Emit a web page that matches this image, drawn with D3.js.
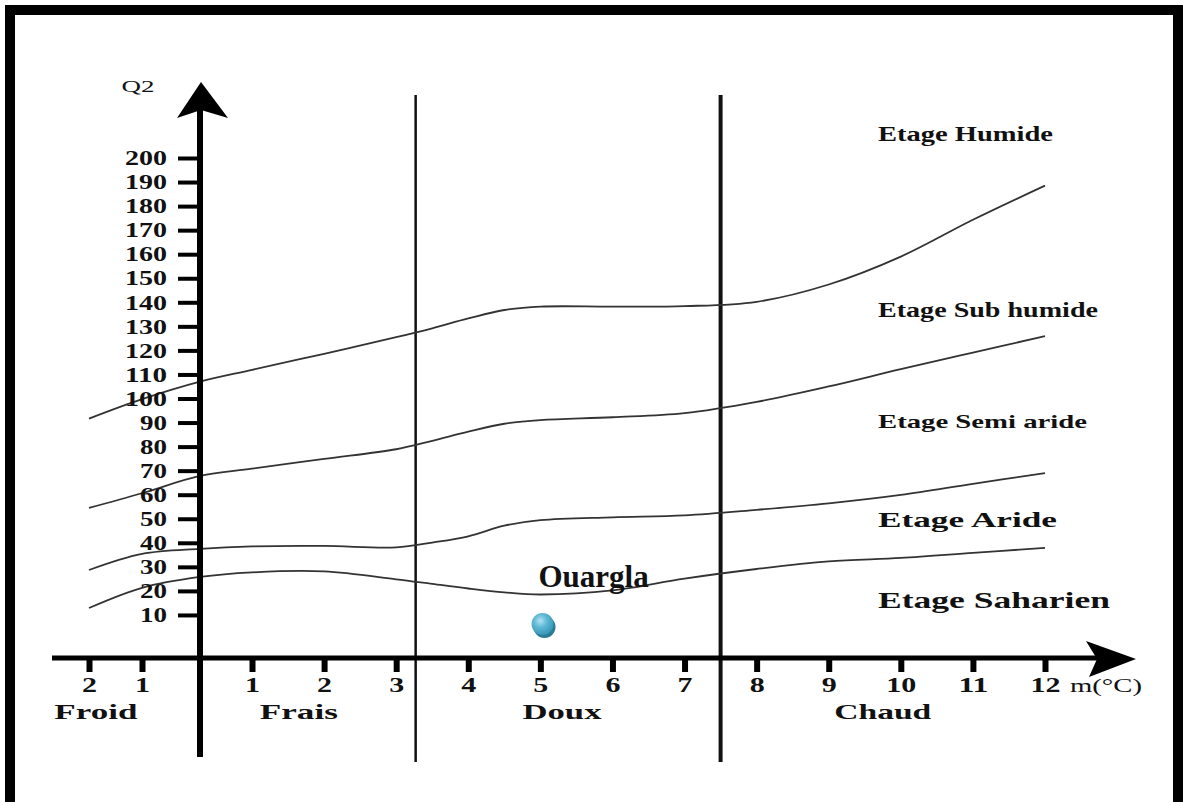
<!DOCTYPE html>
<html>
<head>
<meta charset="utf-8">
<script src="https://cdn.jsdelivr.net/npm/d3@7"></script>
<style>
  html, body { margin: 0; padding: 0; background: #fff; }
  svg { display: block; }
  text { font-family: "Liberation Serif", "Times New Roman", serif; fill: #111; }
</style>
</head>
<body>
<svg id="chart" width="1183" height="802"></svg>
<script>
// ---------- DATA ----------
// m (°C), mean minimum temperature of the coldest month
const mValues = [-2, -1, 0, 1, 2, 3, 3.5, 4, 4.5, 5, 6, 7, 8, 9, 10, 11, 12];
// Q2 boundary curves
const humideBoundary    = [91.6, 99.7, 107.0, 111.9, 118.6, 125.5, 129.2, 133.3, 136.8, 138.2, 138.2, 138.4, 140.2, 147.4, 159.0, 174.3, 188.5];
const subHumideBoundary = [54.5, 60.6, 67.8, 70.8, 74.9, 78.9, 82.4, 86.2, 89.5, 91.0, 92.2, 93.9, 98.6, 105.0, 112.2, 119.1, 125.9];
const semiAridBoundary  = [28.7, 35.4, 37.5, 38.5, 38.7, 38.1, 40.1, 42.7, 47.1, 49.4, 50.6, 51.4, 53.7, 56.4, 59.9, 64.5, 69.0];
const aridBoundary      = [12.9, 21.3, 25.8, 27.7, 28.1, 24.8, 22.9, 21.0, 19.4, 18.5, 20.2, 25.1, 29.1, 32.3, 33.7, 35.8, 37.9];
const boundaries = [humideBoundary, subHumideBoundary, semiAridBoundary, aridBoundary];

const yTicks = [10, 20, 30, 40, 50, 60, 70, 80, 90, 100, 110, 120, 130, 140, 150, 160, 170, 180, 190, 200];
const xTicks = [-2, -1, 1, 2, 3, 4, 5, 6, 7, 8, 9, 10, 11, 12];
const xTickLabels = ["2", "1", "1", "2", "3", "4", "5", "6", "7", "8", "9", "10", "11", "12"];

const thermalZones = ["Froid", "Frais", "Doux", "Chaud"];
const zoneLimits = [3.27, 7.5];          // vertical separators (m)
const etageNames = ["Etage Humide", "Etage Sub humide", "Etage Semi aride", "Etage Aride", "Etage Saharien"];

const stationName = "Ouargla";
const stationM = 5.03;
const stationQ2 = 6.2;

// ---------- LAYOUT ----------
const svg = d3.select("#chart");
const x = d3.scaleLinear().domain([-2, -1, 0, 1, 12]).range([89, 142, 200, 252, 1045]);
const y = d3.scaleLinear().domain([0, 200]).range([639, 158]);
const xAxisY = 658;
const axisBottomEnd = 757;

const defs = svg.append("defs");
const grad = defs.append("radialGradient").attr("id", "ball").attr("cx", "40%").attr("cy", "35%").attr("r", "65%");
grad.append("stop").attr("offset", "0%").attr("stop-color", "#b4e3f2");
grad.append("stop").attr("offset", "45%").attr("stop-color", "#5fb9d6");
grad.append("stop").attr("offset", "100%").attr("stop-color", "#3a97b8");

// frame
svg.append("path")
  .attr("d", "M10,802 V10 H1178 V802")
  .attr("fill", "none").attr("stroke", "#000").attr("stroke-width", 10);

// vertical separators
svg.selectAll(".sep").data(zoneLimits).enter().append("line")
  .attr("x1", d => x(d)).attr("x2", d => x(d))
  .attr("y1", 95).attr("y2", 762)
  .attr("stroke", "#111").attr("stroke-width", (d, i) => i === 0 ? 2.5 : 4);

// boundary curves
const line = d3.line().x((d, i) => x(mValues[i])).y(d => y(d)).curve(d3.curveCatmullRom.alpha(0.5));
svg.selectAll(".bound").data(boundaries).enter().append("path")
  .attr("d", line).attr("fill", "none")
  .attr("stroke", "#333").attr("stroke-width", 1.8);

// Y axis
const yAxis = d3.axisLeft(y).tickValues(yTicks).tickSize(22).tickPadding(11);
const gy = svg.append("g").attr("transform", "translate(200,0)").call(yAxis);
gy.select(".domain").remove();
gy.selectAll(".tick line").attr("stroke", "#000").attr("stroke-width", 4);
gy.selectAll(".tick text")
  .style("font-family", "'Liberation Serif', 'Times New Roman', serif")
  .style("font-weight", "bold").style("font-size", "21px").attr("fill", "#111")
  .attr("textLength", d => String(d).length === 3 ? 42 : 27)
  .attr("lengthAdjust", "spacingAndGlyphs");

// X axis
const xAxis = d3.axisBottom(x).tickValues(xTicks).tickSize(14).tickPadding(6)
  .tickFormat((d, i) => xTickLabels[i]);
const gx = svg.append("g").attr("transform", `translate(0,${xAxisY})`).call(xAxis);
gx.select(".domain").remove();
gx.selectAll(".tick line").attr("stroke", "#000").attr("stroke-width", 6);
gx.selectAll(".tick text")
  .style("font-family", "'Liberation Serif', 'Times New Roman', serif")
  .style("font-weight", "bold").style("font-size", "20px").attr("fill", "#111")
  .attr("textLength", (d, i) => xTickLabels[i].length === 2 ? 30 : 15)
  .attr("lengthAdjust", "spacingAndGlyphs");

// axis lines
svg.append("line").attr("x1", 52).attr("x2", 1100).attr("y1", xAxisY).attr("y2", xAxisY)
  .attr("stroke", "#000").attr("stroke-width", 5);
svg.append("line").attr("x1", x(0)).attr("x2", x(0)).attr("y1", 100).attr("y2", axisBottomEnd)
  .attr("stroke", "#000").attr("stroke-width", 6);
// arrow heads
svg.append("path").attr("d", "M201,82 L177,118 L201,110 L228,118 Z").attr("fill", "#000");
svg.append("path").attr("d", "M1136,659 L1086,641 L1097,659 L1089,677 Z").attr("fill", "#000");

// axis titles
svg.append("text").attr("x", 138).attr("y", 92).attr("text-anchor", "middle")
  .style("font-size", "17px").attr("textLength", 33).attr("lengthAdjust", "spacingAndGlyphs").text("Q2");
svg.append("text").attr("x", 1070).attr("y", 692)
  .style("font-size", "19px").attr("textLength", 72).attr("lengthAdjust", "spacingAndGlyphs").text("m(°C)");

// thermal zone names
const zonePos = [-1.87, 1.65, 5.3, 9.75];
const zoneW = [83, 78, 79, 97];
svg.selectAll(".zone").data(thermalZones).enter().append("text")
  .attr("x", (d, i) => x(zonePos[i]) - zoneW[i] / 2).attr("y", 719)
  .style("font-size", "22px").style("font-weight", "bold")
  .attr("textLength", (d, i) => zoneW[i]).attr("lengthAdjust", "spacingAndGlyphs")
  .text(d => d);

// bioclimatic stage names
const etageY = [141, 317, 428, 527, 608];
const etageW = [175, 220, 209, 179, 232];
const etageFS = [20, 20, 19, 22, 23];
svg.selectAll(".etage").data(etageNames).enter().append("text")
  .attr("x", 878).attr("y", (d, i) => etageY[i])
  .style("font-size", (d, i) => etageFS[i] + "px").style("font-weight", "bold")
  .attr("textLength", (d, i) => etageW[i]).attr("lengthAdjust", "spacingAndGlyphs")
  .text(d => d);

// station
const sx = x(stationM), sy = y(stationQ2);
svg.append("circle").attr("cx", sx + 2).attr("cy", sy + 3).attr("r", 11).attr("fill", "#2a7c95");
svg.append("circle").attr("cx", sx).attr("cy", sy).attr("r", 11).attr("fill", "url(#ball)");
svg.append("text").attr("x", sx + 51).attr("y", 587).attr("text-anchor", "middle")
  .style("font-size", "31px").style("font-weight", "bold").text(stationName);
</script>
</body>
</html>
